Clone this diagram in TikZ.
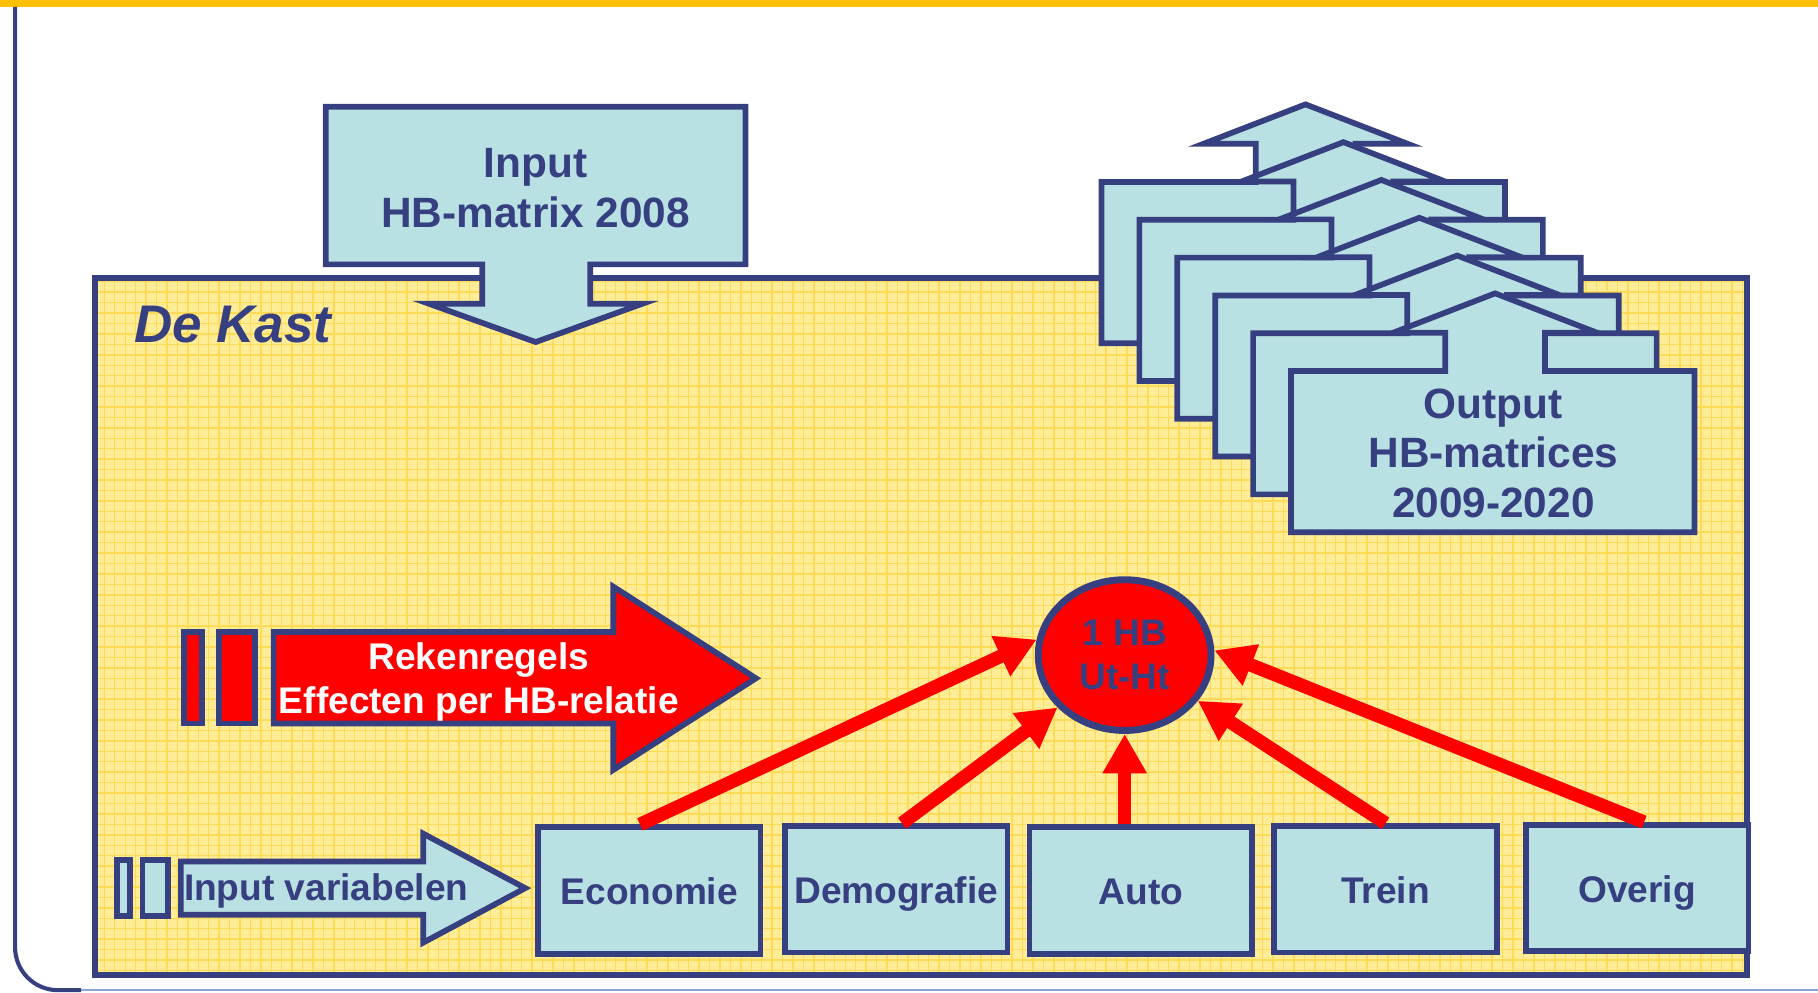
\documentclass[tikz,border=0pt]{standalone}
\usepackage{fontspec}
\setmainfont{Liberation Sans}
\usetikzlibrary{arrows.meta,shapes.geometric}

\definecolor{navy}{RGB}{54,64,128}
\definecolor{hbblue}{RGB}{185,224,227}
\definecolor{kastgeel}{RGB}{255,236,150}
\definecolor{kastlijn}{RGB}{255,218,85}
\definecolor{balkoranje}{RGB}{255,192,0}
\definecolor{randblauw}{RGB}{140,165,215}

\begin{document}
\begin{tikzpicture}[x=0.1mm,y=-0.1mm,
    hbshape/.style={draw=navy,fill=hbblue,line width=1.4pt},
    redshape/.style={draw=navy,fill=red,line width=1.4pt},
    groottekst/.style={text=navy,align=center,font=\fontsize{10.4}{12.2}\selectfont\bfseries},
    wittetekst/.style={text=white,align=center,font=\fontsize{9.1}{10.8}\selectfont\bfseries},
    boxtekst/.style={text=navy,align=center,font=\fontsize{9.1}{10.8}\selectfont\bfseries},
    hbbox/.style={hbshape,boxtekst,minimum width=19.2mm,minimum height=10.9mm,inner sep=0pt,
        text height=7.1pt,text depth=0pt},
    hbpijl/.style={draw=red,line width=3.3pt,-{Triangle[width=3.6mm,length=3.4mm]}}]

    \useasboundingbox (0,0) rectangle (1568,856);

    % kader van de dia
    \fill[balkoranje] (0,0) rectangle (1568,6);
    \draw[navy,line width=1pt,rounded corners=3.7mm] (13,6) -- (13,854) -- (70,854);
    \draw[randblauw,line width=0.6pt] (70,854) -- (1568,854);

    % de kast
    \fill[kastgeel] (82,240) rectangle (1507,841);
    \begin{scope}
        \clip (82,240) rectangle (1507,841);
        \draw[kastlijn,line width=0.35pt,step=0.9mm] (82,240) grid (1507,841);
    \end{scope}
    \draw[navy,line width=1.55pt] (82,240) rectangle (1507,841);
    \node[anchor=base west,inner sep=0pt,text=navy,
        font=\fontsize{13}{16}\selectfont\bfseries\itshape] (kast) at (115,295) {De Kast};

    % input HB-matrix
    \draw[hbshape] (281,92) -- (643,92) -- (643,228) -- (509,228) -- (509,262) -- (554,262)
        -- (462,295) -- (370,262) -- (416,262) -- (416,228) -- (281,228) -- cycle;
    \node[groottekst] (input) at (462,162) {Input\\HB-matrix 2008};

    % output HB-matrices
    \foreach \k in {0,...,5}
        \draw[hbshape,shift={(950+32.7*\k,157+32.6*\k)}] (0,0) -- (133,0) -- (133,-33)
            -- (88,-33) -- (176,-67) -- (264,-33) -- (219,-33) -- (219,0) -- (348,0)
            -- (348,139) -- (0,139) -- cycle;
    \node[groottekst] (output) at (1288,391) {Output\\HB-matrices\\2009-2020};

    % rekenregels
    \draw[redshape] (159,545) rectangle (174,624);
    \draw[redshape] (189,545) rectangle (220,624);
    \draw[redshape] (236,545) -- (529,545) -- (529,506) -- (652,585) -- (529,664)
        -- (529,624) -- (236,624) -- cycle;
    \node[wittetekst] (reken) at (413,588) {Rekenregels\\Effecten per HB-relatie};

    % input variabelen
    \draw[hbshape] (101,742) rectangle (112,790);
    \draw[hbshape] (123,742) rectangle (145,790);
    \draw[hbshape] (156,743) -- (365,743) -- (365,719) -- (453,766) -- (365,813)
        -- (365,789) -- (156,789) -- cycle;
    \node[boxtekst,anchor=base west,inner sep=0pt] (invar) at (158,777) {Input variabelen};

    \node[hbbox] (eco) at (560,768) {Economie};
    \node[hbbox] (demo) at (773,767) {Demografie};
    \node[hbbox] (auto) at (984,768) {Auto};
    \node[hbbox] (trein) at (1195,767) {Trein};
    \node[hbbox] (overig) at (1412,766) {Overig};

    \node[ellipse,draw=navy,fill=red,line width=1.7pt,minimum width=14.9mm,
        minimum height=13mm,inner sep=0pt,boxtekst] (hb) at (970,565) {1 HB\\Ut-Ht};

    \draw[hbpijl] ([xshift=-0.8mm]eco.north) -- (hb.170);
    \draw[hbpijl] ([xshift=0.5mm]demo.north) -- (hb.218);
    \draw[hbpijl] (auto.north -| hb.south) -- (hb.south);
    \draw[hbpijl] (trein.north) -- (hb.328);
    \draw[hbpijl] ([xshift=0.6mm]overig.north) -- (hb.3);
\end{tikzpicture}
\end{document}
